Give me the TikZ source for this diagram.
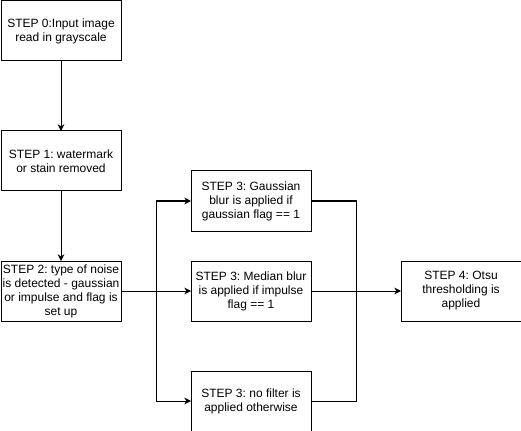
\documentclass[tikz,border=0pt]{standalone}
\usepackage{fontspec}
\setmainfont{Liberation Sans}
\usepackage{tikz}
\usetikzlibrary{arrows.meta, positioning, calc}

\begin{document}
\frenchspacing
\begin{tikzpicture}[node distance=52.5pt, auto,
    stepbox/.style={rectangle, draw=black, fill=white, line width=0.75pt,
                  minimum width=90pt, minimum height=45pt,
                  inner sep=0pt, outer sep=0pt, align=center,
                  font=\fontsize{9}{10.5}\selectfont},
    arrow/.style={-{Stealth[length=5pt, width=5pt, inset=1.5pt]}, line width=0.75pt, black},
    line/.style={line width=0.75pt, black}]
    \useasboundingbox (0,0) rectangle (390.75pt,-323.25pt);

    \node[stepbox] (input) at (45.75pt,-23.25pt) {STEP 0:Input image\\read in grayscale};
    \node[stepbox, below=of input] (stain) {STEP 1: watermark\\or stain removed};
    \node[stepbox, below=of stain] (noise) {STEP 2: type of noise\\is detected - gaussian\\or impulse and flag is\\set up};
    \node[stepbox, right=of noise] (median) {STEP 3: Median blur\\is applied if impulse\\flag == 1};
    \node[stepbox, above=22.5pt of median] (gauss) {STEP 3: Gaussian\\blur is applied if\\gaussian flag == 1};
    \node[stepbox, below=37.5pt of median] (nofilter) {STEP 3: no filter is\\applied otherwise};
    \node[stepbox, right=67.5pt of median] (otsu) {STEP 4: Otsu\\thresholding is\\applied};

    \coordinate (split) at ($(noise.east)!0.5!(median.west)$);
    \coordinate (merge) at ($(median.east)!0.5!(otsu.west)$);

    \draw[arrow] (input) -- (stain);
    \draw[arrow] (stain) -- (noise);
    \draw[arrow] (noise) -- (median);
    \draw[arrow] (noise.east) -- (split) |- (gauss);
    \draw[arrow] (noise.east) -- (split) |- (nofilter);
    \draw[arrow] (median) -- (otsu);
    \draw[line] (gauss.east) -| (merge);
    \draw[line] (nofilter.east) -| (merge);
\end{tikzpicture}
\end{document}
